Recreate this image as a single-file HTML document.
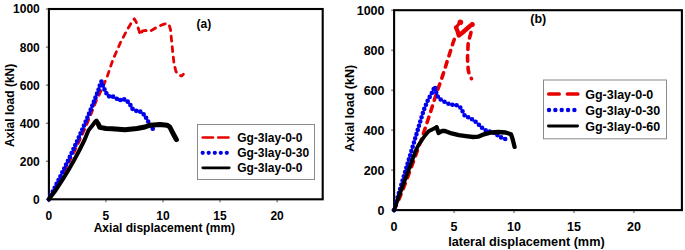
<!DOCTYPE html>
<html><head><meta charset="utf-8"><style>
html,body{margin:0;padding:0;background:#fff;width:685px;height:250px;overflow:hidden}
svg{display:block}
text{font-family:"Liberation Sans", sans-serif;font-weight:bold;fill:#000}
</style></head><body>
<svg width="685" height="250" viewBox="0 0 685 250">
<line x1="45.9" y1="199.3" x2="48.9" y2="199.3" stroke="#555" stroke-width="1"/>
<text x="39.8" y="203.7" text-anchor="end" font-size="12">0</text>
<line x1="45.9" y1="161.2" x2="48.9" y2="161.2" stroke="#555" stroke-width="1"/>
<text x="39.8" y="165.6" text-anchor="end" font-size="12">200</text>
<line x1="45.9" y1="123.2" x2="48.9" y2="123.2" stroke="#555" stroke-width="1"/>
<text x="39.8" y="127.6" text-anchor="end" font-size="12">400</text>
<line x1="45.9" y1="85.1" x2="48.9" y2="85.1" stroke="#555" stroke-width="1"/>
<text x="39.8" y="89.5" text-anchor="end" font-size="12">600</text>
<line x1="45.9" y1="47.1" x2="48.9" y2="47.1" stroke="#555" stroke-width="1"/>
<text x="39.8" y="51.5" text-anchor="end" font-size="12">800</text>
<line x1="45.9" y1="9.0" x2="48.9" y2="9.0" stroke="#555" stroke-width="1"/>
<text x="39.8" y="13.4" text-anchor="end" font-size="12">1000</text>
<line x1="48.9" y1="199.3" x2="48.9" y2="202.3" stroke="#555" stroke-width="1"/>
<text x="48.9" y="220.2" text-anchor="middle" font-size="12">0</text>
<line x1="105.9" y1="199.3" x2="105.9" y2="202.3" stroke="#555" stroke-width="1"/>
<text x="105.9" y="220.2" text-anchor="middle" font-size="12">5</text>
<line x1="163.0" y1="199.3" x2="163.0" y2="202.3" stroke="#555" stroke-width="1"/>
<text x="163.0" y="220.2" text-anchor="middle" font-size="12">10</text>
<line x1="220.0" y1="199.3" x2="220.0" y2="202.3" stroke="#555" stroke-width="1"/>
<text x="220.0" y="220.2" text-anchor="middle" font-size="12">15</text>
<line x1="277.1" y1="199.3" x2="277.1" y2="202.3" stroke="#555" stroke-width="1"/>
<text x="277.1" y="220.2" text-anchor="middle" font-size="12">20</text>
<rect x="48.9" y="9.0" width="273.8" height="190.3" fill="none" stroke="#000" stroke-width="2.1"/>
<text x="164.4" y="231.9" text-anchor="middle" font-size="12">Axial displacement (mm)</text>
<text transform="translate(14.0,105.4) rotate(-90)" text-anchor="middle" font-size="12">Axial load (kN)</text>
<text x="196.5" y="27.7" font-size="12">(a)</text>
<polyline points="48.9,199.3 54.2,190.0 59.6,180.0 65.0,170.0 70.1,160.0 75.1,150.0 79.8,140.0 84.3,130.0 88.6,120.0 92.6,110.0 96.5,100.0 99.6,94.0 106.9,77.5 112.8,60.0 120.5,42.5 126.5,31.0 129.5,26.0 131.8,22.0 134.3,18.8 136.2,22.0 138.6,29.2 140.2,34.8 142.6,30.8 145.8,30.5 149.0,31.6 152.2,30.0 156.2,27.6 159.4,26.0 163.4,24.4 166.6,23.6 169.0,24.4 170.6,30.0 171.4,38.8 172.6,50.8 174.0,63.4 175.9,71.5 178.9,75.1 181.6,76.0 183.4,74.2" fill="none" stroke="#e60000" stroke-width="2.8" stroke-dasharray="5 5.5" stroke-linecap="round" stroke-linejoin="round"/>
<polyline points="48.9,199.3 53.6,190.0 58.6,180.0 63.5,170.0 68.4,160.0 73.1,150.0 77.7,140.0 82.1,130.0 86.4,120.0 90.6,110.0 94.6,100.0 98.5,90.0 100.0,85.0 101.5,81.5 103.4,87.3 106.2,92.9 108.6,96.4 111.6,95.8 114.6,97.6 117.0,98.8 119.4,100.6 122.4,98.8 126.0,100.0 129.6,103.6 132.6,109.0 136.2,110.8 139.2,110.8 142.2,113.2 144.6,115.0 147.2,119.8 149.6,124.0 152.5,128.5 154.8,130.8" fill="none" stroke="#0000ea" stroke-width="4.7" stroke-dasharray="0 4.3" stroke-linecap="round" stroke-linejoin="round"/>
<polyline points="48.9,199.3 55.9,190.0 62.4,180.0 68.5,170.0 74.2,160.0 79.5,150.0 84.5,140.0 88.4,130.4 92.0,126.0 95.0,122.0 96.5,120.5 98.0,123.5" fill="none" stroke="#000" stroke-width="4.0" stroke-linejoin="round" stroke-linecap="round"/>
<polyline points="98.0,123.5 99.8,127.4 106.0,128.5 112.0,128.8 125.0,129.8 137.0,128.5 145.0,127.0 150.0,125.2 160.0,124.6 167.0,125.2 169.8,127.0 172.8,133.0 176.4,139.6" fill="none" stroke="#000" stroke-width="5.0" stroke-linejoin="round" stroke-linecap="round"/>
<rect x="197.5" y="124.5" width="117" height="55" fill="#fff" stroke="#8a8a8a" stroke-width="1"/>
<line x1="202.70" y1="137.5" x2="229.3" y2="137.5" stroke="#e60000" stroke-width="2.6" stroke-dasharray="10.3 5.2" stroke-linecap="round"/>
<circle cx="202.7" cy="152.8" r="2.1" fill="#0000ea"/>
<circle cx="208.7" cy="152.8" r="2.1" fill="#0000ea"/>
<circle cx="214.8" cy="152.8" r="2.1" fill="#0000ea"/>
<circle cx="220.8" cy="152.8" r="2.1" fill="#0000ea"/>
<circle cx="226.8" cy="152.8" r="2.1" fill="#0000ea"/>
<line x1="202.75" y1="167.8" x2="229.25" y2="167.8" stroke="#000" stroke-width="2.7" stroke-linecap="round"/>
<text x="237.2" y="142.3" font-size="12">Gg-3lay-0-0</text>
<text x="237.2" y="157.3" font-size="12">Gg-3lay-0-30</text>
<text x="237.2" y="172.3" font-size="12">Gg-3lay-0-0</text>
<line x1="391.1" y1="210.1" x2="394.1" y2="210.1" stroke="#555" stroke-width="1"/>
<text x="384.5" y="215.1" text-anchor="end" font-size="12.5">0</text>
<line x1="391.1" y1="170.1" x2="394.1" y2="170.1" stroke="#555" stroke-width="1"/>
<text x="384.5" y="175.1" text-anchor="end" font-size="12.5">200</text>
<line x1="391.1" y1="130.1" x2="394.1" y2="130.1" stroke="#555" stroke-width="1"/>
<text x="384.5" y="135.1" text-anchor="end" font-size="12.5">400</text>
<line x1="391.1" y1="90.2" x2="394.1" y2="90.2" stroke="#555" stroke-width="1"/>
<text x="384.5" y="95.2" text-anchor="end" font-size="12.5">600</text>
<line x1="391.1" y1="50.2" x2="394.1" y2="50.2" stroke="#555" stroke-width="1"/>
<text x="384.5" y="55.2" text-anchor="end" font-size="12.5">800</text>
<line x1="391.1" y1="10.2" x2="394.1" y2="10.2" stroke="#555" stroke-width="1"/>
<text x="384.5" y="15.2" text-anchor="end" font-size="12.5">1000</text>
<line x1="394.1" y1="210.1" x2="394.1" y2="213.1" stroke="#555" stroke-width="1"/>
<text x="394.1" y="231.4" text-anchor="middle" font-size="12.5">0</text>
<line x1="454.1" y1="210.1" x2="454.1" y2="213.1" stroke="#555" stroke-width="1"/>
<text x="454.1" y="231.4" text-anchor="middle" font-size="12.5">5</text>
<line x1="514.0" y1="210.1" x2="514.0" y2="213.1" stroke="#555" stroke-width="1"/>
<text x="514.0" y="231.4" text-anchor="middle" font-size="12.5">10</text>
<line x1="574.0" y1="210.1" x2="574.0" y2="213.1" stroke="#555" stroke-width="1"/>
<text x="574.0" y="231.4" text-anchor="middle" font-size="12.5">15</text>
<line x1="633.9" y1="210.1" x2="633.9" y2="213.1" stroke="#555" stroke-width="1"/>
<text x="633.9" y="231.4" text-anchor="middle" font-size="12.5">20</text>
<rect x="394.1" y="10.2" width="287.8" height="199.9" fill="none" stroke="#000" stroke-width="2.1"/>
<text x="526.4" y="245.5" text-anchor="middle" font-size="12.7">lateral displacement (mm)</text>
<text transform="translate(354.3,108.3) rotate(-90)" text-anchor="middle" font-size="12.5">Axial load (kN)</text>
<text x="530.3" y="23.4" font-size="12.5">(b)</text>
<polyline points="456,27.5 457.5,31 458.8,35.5 462,33 466,29.5 470,26 472.2,24.5" fill="none" stroke="#e60000" stroke-width="4.4" stroke-linejoin="round" stroke-linecap="round"/>
<polyline points="456,27.5 458,25 460.3,22" fill="none" stroke="#e60000" stroke-width="3.2" stroke-linecap="round"/>
<circle cx="460.4" cy="22.2" r="2.8" fill="#e60000"/>
<circle cx="472.2" cy="24.6" r="2.5" fill="#e60000"/>
<polyline points="394.1,210.1 398.7,200.0 402.7,190.0 406.6,180.0 410.3,170.0 414.0,160.0 417.6,150.0 421.2,140.0 424.6,130.0 427.9,120.0 431.2,110.0 434.3,100.0 437.6,90.0 441.2,80.0 444.5,70.0 447.6,60.0 450.8,50.0 453.0,43.0 455.0,37.5" fill="none" stroke="#e60000" stroke-width="3.6" stroke-dasharray="5.6 6.1" stroke-linecap="round" stroke-linejoin="round"/>
<polyline points="471.0,32.5 469.5,38.0 468.1,44.2 467.5,58.0 468.2,70.0 469.5,75.0 471.5,78.6" fill="none" stroke="#e60000" stroke-width="3.6" stroke-dasharray="5.6 6.1" stroke-linecap="round" stroke-linejoin="round"/>
<polyline points="394.1,210.1 396.8,200.0 399.8,190.0 402.7,180.0 405.7,170.0 408.7,160.0 411.7,150.0 414.7,140.0 417.7,130.0 420.7,120.0 423.8,110.0 428.0,100.0 432.4,92.0 434.8,86.5 436.4,93.0 438.4,98.0 443.0,101.0 447.0,103.0 451.0,105.0 455.0,104.4 460.0,107.0 462.4,111.0 465.1,116.3 470.5,118.1 476.8,122.6 482.2,128.0 487.6,131.6 492.1,131.6 500.2,137.0 505.6,139.2 509.2,138.8" fill="none" stroke="#0000ea" stroke-width="4.6" stroke-dasharray="0 4.4" stroke-linecap="round" stroke-linejoin="round"/>
<polyline points="394.1,210.1 397.5,200.0 401.2,190.0 404.9,180.0 408.6,170.0 412.3,160.0 416.0,150.0 418.5,145.0 420.6,142.0 424.6,136.0 428.6,131.2 432.6,129.2 436.6,127.2" fill="none" stroke="#000" stroke-width="3.8" stroke-linejoin="round" stroke-linecap="round"/>
<polyline points="436.6,127.2 438.6,133.0 442.2,130.8 445.0,131.0 451.6,133.4 458.8,135.2 466.0,136.1 473.2,137.0 478.6,136.6 484.0,134.3 491.2,132.5 498.4,132.0 505.6,132.5 511.0,134.3 512.8,139.7 514.6,146.9" fill="none" stroke="#000" stroke-width="4.3" stroke-linejoin="round" stroke-linecap="round"/>
<rect x="543.5" y="80" width="123" height="58.8" fill="#fff" stroke="#8a8a8a" stroke-width="1"/>
<line x1="548.85" y1="94" x2="579" y2="94" stroke="#e60000" stroke-width="3.7" stroke-dasharray="10.3 8.3" stroke-linecap="round"/>
<circle cx="549" cy="110" r="2.2" fill="#0000ea"/>
<circle cx="555.35" cy="110" r="2.2" fill="#0000ea"/>
<circle cx="561.7" cy="110" r="2.2" fill="#0000ea"/>
<circle cx="568.05" cy="110" r="2.2" fill="#0000ea"/>
<circle cx="574.4" cy="110" r="2.2" fill="#0000ea"/>
<line x1="548.40" y1="126" x2="577.60" y2="126" stroke="#000" stroke-width="2.8" stroke-linecap="round"/>
<text x="585.2" y="99.1" font-size="12.5">Gg-3lay-0-0</text>
<text x="585.2" y="115.1" font-size="12.5">Gg-3lay-0-30</text>
<text x="585.2" y="131.1" font-size="12.5">Gg-3lay-0-60</text>
</svg>
</body></html>
